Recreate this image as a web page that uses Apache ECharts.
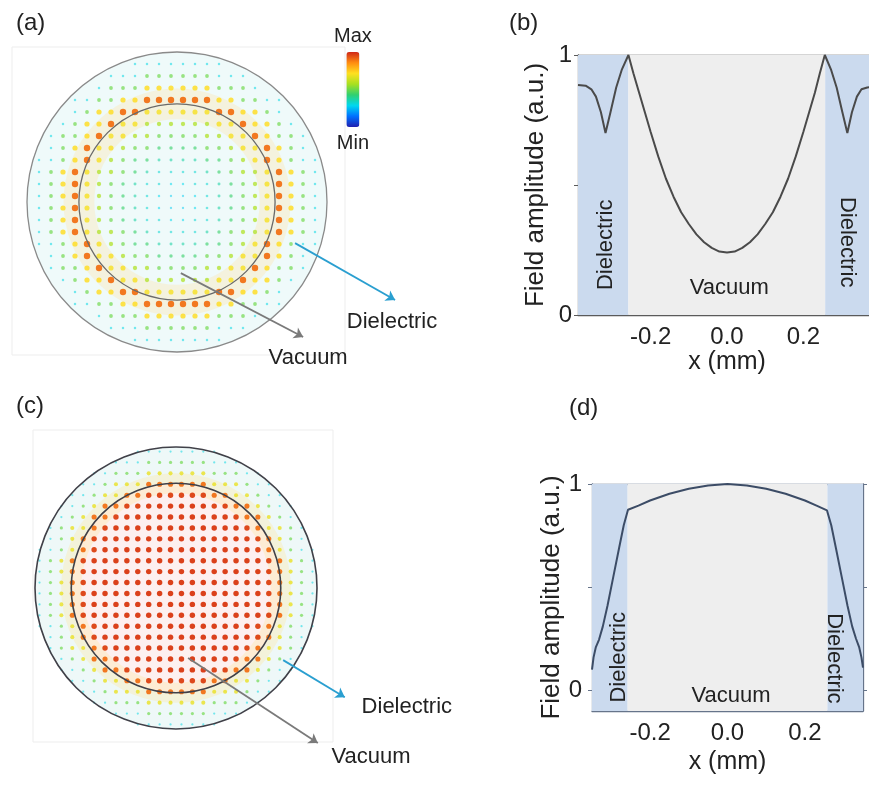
<!DOCTYPE html>
<html><head><meta charset="utf-8">
<script src="https://cdn.jsdelivr.net/npm/echarts@6/dist/echarts.min.js"></script>
<style>html,body{margin:0;padding:0;background:#fff}#c{width:869px;height:786px}</style>
</head><body><div id="c"></div>
<script>
// ---------------- data ----------------
// panel (a): dot amplitude per ring (ring 0 = centre), 24 x 24 dot lattice
const aRingLevel = [0.27, 0.29, 0.32, 0.37, 0.44, 0.50, 0.58, 0.70, 0.90, 0.72, 0.50, 0.30];
const aDotsPerSide = 24;
const aPitch = 0.0312;          // mm between dots
const aRadii = [0.39, 0.255];   // mm: outer dielectric edge, vacuum hole edge
// panel (c)
const cRingLevel = [0.97, 0.97, 0.97, 0.97, 0.97, 0.97, 0.97, 0.97, 0.96, 0.90, 0.68, 0.50, 0.30];
const cDotsPerSide = 26;
const cPitch = 0.0271;
const cRadii = [0.35, 0.26];
// arrows (mm) and annotation texts
const aArrows = [[[0.307, -0.107], [0.567, -0.255]], [[0.010, -0.185], [0.328, -0.351]]];
const aTexts = [['Dielectric', 0.559, -0.312], ['Vacuum', 0.341, -0.406]];
const cArrows = [[[0.266, -0.179], [0.419, -0.271]], [[0.030, -0.174], [0.352, -0.385]]];
const cTexts = [['Dielectric', 0.573, -0.295], ['Vacuum', 0.484, -0.419]];
// panel (b) profile
const bX = [-0.39,-0.37,-0.355,-0.343,-0.33,-0.318,-0.305,-0.29,-0.275,-0.258,-0.245,-0.23,-0.215,-0.2,-0.18,-0.16,-0.14,-0.12,-0.1,-0.08,-0.06,-0.04,-0.02,0,
            0.02,0.04,0.06,0.08,0.1,0.12,0.14,0.16,0.18,0.2,0.215,0.23,0.243,0.256,0.272,0.287,0.302,0.315,0.327,0.34,0.352,0.367,0.39];
const bY = [0.885,0.882,0.868,0.84,0.78,0.70,0.78,0.875,0.945,1.0,0.93,0.855,0.78,0.705,0.61,0.525,0.455,0.395,0.35,0.31,0.28,0.258,0.244,0.24,
            0.244,0.258,0.28,0.31,0.35,0.395,0.455,0.525,0.61,0.705,0.78,0.855,0.93,1.0,0.945,0.875,0.78,0.70,0.78,0.84,0.868,0.875,0.88];
const bRange = [-0.39, 0.39];
const bEdges = [-0.258, 0.257];
const bTexts = [['Dielectric', -0.318, 0.27], ['Dielectric', 0.315, 0.28], ['Vacuum', 0.006, 0.106]];
// panel (d) profile
const dX = [-0.35,-0.346,-0.34,-0.332,-0.322,-0.31,-0.295,-0.28,-0.268,-0.257,-0.23,-0.2,-0.15,-0.1,-0.05,0,
            0.05,0.1,0.15,0.2,0.23,0.257,0.268,0.28,0.295,0.31,0.322,0.332,0.34,0.346,0.35];
const dY = [0.10,0.16,0.21,0.245,0.31,0.41,0.55,0.69,0.80,0.875,0.895,0.92,0.953,0.977,0.993,1.0,
            0.993,0.977,0.953,0.92,0.895,0.872,0.80,0.69,0.55,0.41,0.31,0.25,0.21,0.16,0.11];
const dRange = [-0.35, 0.35];
const dEdges = [-0.258, 0.258];
const dTexts = [['Dielectric', -0.28, 0.16], ['Dielectric', 0.275, 0.155], ['Vacuum', 0.009, -0.025]];
// ticks
const xTickValues = [-0.3, -0.2, -0.1, 0, 0.1, 0.2, 0.3];
const xLabelValues = [-0.2, 0, 0.2];
const yTickValues = [0, 0.5, 1];
const yLabelValues = [0, 1];

// ---------------- build ----------------
function buildDots(n, pitch, levels, rMax) {
  const out = [];
  for (let i = 0; i < n; i++) for (let j = 0; j < n; j++) {
    const gx = i - (n - 1) / 2, gy = j - (n - 1) / 2;
    const rs = Math.hypot(gx, gy);
    if (rs > rMax) continue;
    const ring = Math.min(levels.length - 1, Math.max(0, Math.round(rs - 0.5)));
    out.push([gx * pitch, gy * pitch, levels[ring]]);
  }
  return out;
}
const dotsA = buildDots(aDotsPerSide, aPitch, aRingLevel, 12.1);
const dotsC = buildDots(cDotsPerSide, cPitch, cRingLevel, 13.0);
const zip = (xs, ys) => xs.map((x, i) => [x, ys[i]]);

// layout of the two map panels (pixels)
function mapLayout(cx, cy, s, left, top, width, height) {
  return { grid: { left, top, width, height, outerBoundsMode: 'none' },
    x: [(left - cx) / s, (left + width - cx) / s], y: [(cy - top - height) / s, (cy - top) / s] };
}
const LA = mapLayout(177, 202, 300 / 0.78, 12, 15, 448, 370);
const LC = mapLayout(176, 588, 141 / 0.35, 12, 420, 458, 360);

const FONT = 'Liberation Sans, Arial, sans-serif';
const TXT = '#222';
const DIEL = '#cbdaee', VAC = '#eeeeee';
const jet = ['#2020b0', '#0070ff', '#00d8f0', '#30d070', '#a8e020', '#ffe020', '#ff8c10', '#d02818'];

function hiddenAxis(grid, r) { return { type: 'value', gridIndex: grid, min: r[0], max: r[1], show: false }; }
function plotX(grid, r, pos, labels, lineColor) {
  return { type: 'value', gridIndex: grid, min: r[0], max: r[1], position: pos,
    axisLine: { show: true, onZero: false, lineStyle: { color: lineColor, width: 1.3 } },
    axisTick: { show: true, inside: true, length: 4, customValues: xTickValues, lineStyle: { color: lineColor } },
    axisLabel: { show: labels, customValues: xLabelValues, margin: 10, fontSize: 24, color: TXT, fontFamily: FONT,
      formatter: v => v.toFixed(1) },
    splitLine: { show: false },
    name: labels ? 'x (mm)' : '', nameLocation: 'middle', nameGap: 0,
    nameTextStyle: { fontSize: 25, color: TXT, fontFamily: FONT } };
}
function plotY(grid, r, pos, labels, lineColor, margin, gap) {
  return { type: 'value', gridIndex: grid, min: r[0], max: r[1], position: pos,
    axisLine: { show: true, onZero: false, lineStyle: { color: lineColor, width: 1.3 } },
    axisTick: { show: true, inside: false, length: 4, customValues: yTickValues, lineStyle: { color: lineColor } },
    axisLabel: { show: labels, customValues: yLabelValues, margin: margin, fontSize: 24, color: TXT, fontFamily: FONT },
    splitLine: { show: false },
    name: labels ? 'Field amplitude (a.u.)' : '', nameLocation: 'middle', nameGap: gap,
    nameTextStyle: { fontSize: 26, color: TXT, fontFamily: FONT } };
}

const xB = plotX(1, bRange, 'bottom', true, '#5a5a5a'); xB.nameGap = 27;
const xD = plotX(3, dRange, 'bottom', true, '#66748a'); xD.nameGap = 39;

function circleSeries(xi, yi, radii, styles, z) {
  return { type: 'custom', xAxisIndex: xi, yAxisIndex: yi, z: z, silent: true, clip: false,
    data: radii.map(r => [r]),
    renderItem: (p, api) => {
      const c = api.coord([0, 0]);
      const r = api.size([api.value(0), 0])[0];
      const st = styles[p.dataIndex];
      return { type: 'circle', shape: { cx: c[0], cy: c[1], r: r },
        style: { fill: st.fill || 'none', stroke: st.stroke || 'none',
                 lineWidth: st.lw ? (st.lwMm ? api.size([st.lw, 0])[0] : st.lw) : 0 } };
    } };
}
function textSeries(xi, yi, items, rot, size) {
  return { type: 'scatter', xAxisIndex: xi, yAxisIndex: yi, symbolSize: 1, z: 6, silent: true,
    itemStyle: { color: 'rgba(0,0,0,0)', opacity: 1 },
    data: items.map((t, i) => ({ name: t[0], value: [t[1], t[2]], label: { rotate: rot[i] } })),
    label: { show: true, position: 'inside', formatter: '{b}', fontSize: size, color: TXT, fontFamily: FONT,
             textBorderWidth: 0 } };
}
function arrowSeries(xi, yi, arrows, colors) {
  return { type: 'lines', coordinateSystem: 'cartesian2d', xAxisIndex: xi, yAxisIndex: yi, z: 5, silent: true,
    symbol: ['none', 'arrow'], symbolSize: 9,
    data: arrows.map((a, i) => ({ coords: a, lineStyle: { color: colors[i], width: 1.8, opacity: 1 } })) };
}
function bandAreas(range, edges) {
  return [[{ xAxis: range[0], itemStyle: { color: DIEL } }, { xAxis: edges[0] }],
          [{ xAxis: edges[0], itemStyle: { color: VAC } }, { xAxis: edges[1] }],
          [{ xAxis: edges[1], itemStyle: { color: DIEL } }, { xAxis: range[1] }]];
}

const option = {
  animation: false,
  backgroundColor: '#fff',
  textStyle: { fontFamily: FONT },
  title: [
    { text: '(a)', left: 11, top: 6 }, { text: '(b)', left: 504, top: 6 },
    { text: '(c)', left: 11, top: 389 }, { text: '(d)', left: 564, top: 391 }
  ].map(t => Object.assign(t, { textStyle: { fontSize: 24, fontWeight: 'normal', color: TXT, fontFamily: FONT } })),
  graphic: [
    { type: 'rect', shape: { x: 12, y: 47, width: 333, height: 308 }, style: { fill: 'none', stroke: '#ededed', lineWidth: 1 }, z: -1 },
    { type: 'rect', shape: { x: 33, y: 430, width: 300, height: 312 }, style: { fill: 'none', stroke: '#ededed', lineWidth: 1 }, z: -1 }
  ],
  grid: [
    LA.grid,
    { left: 578, top: 55, width: 298, height: 260, outerBoundsMode: 'none' },
    LC.grid,
    { left: 592, top: 484, width: 271, height: 227, outerBoundsMode: 'none' }
  ],
  xAxis: [
    hiddenAxis(0, LA.x), xB, plotX(1, bRange, 'top', false, '#5a5a5a'),
    hiddenAxis(2, LC.x), xD, plotX(3, dRange, 'top', false, '#66748a')
  ],
  yAxis: [
    hiddenAxis(0, LA.y), plotY(1, [0, 1], 'left', true, '#5a5a5a', 6, 29), plotY(1, [0, 1], 'right', false, '#5a5a5a', 6, 0),
    hiddenAxis(2, LC.y), plotY(3, [-0.1, 1], 'left', true, '#66748a', 10, 27), plotY(3, [-0.1, 1], 'right', false, '#66748a', 6, 0)
  ],
  visualMap: [
    { type: 'continuous', min: 0, max: 1, dimension: 2, seriesIndex: [0, 1], calculable: false, hoverLink: false,
      orient: 'vertical', left: 319, top: 11, itemWidth: 13, itemHeight: 75, textGap: 6,
      text: ['Max', 'Min'], textStyle: { fontSize: 20, color: TXT, fontFamily: FONT },
      inRange: { color: jet } },
    { type: 'continuous', show: false, min: 0.25, max: 1, dimension: 2, seriesIndex: 0,
      inRange: { symbolSize: [2.2, 7], opacity: [0.5, 1] } },
    { type: 'continuous', show: false, min: 0.25, max: 1, dimension: 2, seriesIndex: 1,
      inRange: { symbolSize: [2, 5.6], opacity: [0.5, 1] } }
  ],
  series: [
    { type: 'scatter', xAxisIndex: 0, yAxisIndex: 0, data: dotsA, symbol: 'circle', z: 3, silent: true },
    { type: 'scatter', xAxisIndex: 3, yAxisIndex: 3, data: dotsC, symbol: 'circle', z: 3, silent: true },
    circleSeries(0, 0, [aRadii[0], aRadii[1]], [{ fill: '#effafa' }, { stroke: 'rgba(255,226,160,0.3)', lw: 0.08, lwMm: true }], 1),
    circleSeries(0, 0, aRadii, [{ stroke: '#8a8a8a', lw: 1.3 }, { stroke: '#6a6a6a', lw: 1.3 }], 4),
    circleSeries(3, 3, [cRadii[0], cRadii[1], cRadii[1]], [{ fill: '#eef8f8' }, { fill: '#fdf0f0' }, { stroke: 'rgba(255,230,150,0.3)', lw: 0.05, lwMm: true }], 1),
    circleSeries(3, 3, cRadii, [{ stroke: '#404048', lw: 1.6 }, { stroke: '#404048', lw: 1.6 }], 4),
    arrowSeries(0, 0, aArrows, ['#2a9fd0', '#7a7a7a']),
    arrowSeries(3, 3, cArrows, ['#2a9fd0', '#7a7a7a']),
    textSeries(0, 0, aTexts, [0, 0], 22),
    textSeries(3, 3, cTexts, [0, 0], 22),
    { type: 'line', xAxisIndex: 1, yAxisIndex: 1, data: zip(bX, bY), showSymbol: false, z: 4, silent: true,
      lineStyle: { color: '#4a4a4a', width: 2 },
      markArea: { silent: true, data: bandAreas(bRange, bEdges) } },
    textSeries(1, 1, bTexts, [90, -90, 0], 22),
    { type: 'line', xAxisIndex: 4, yAxisIndex: 4, data: zip(dX, dY), showSymbol: false, z: 4, silent: true,
      lineStyle: { color: '#3c4c66', width: 2 },
      markArea: { silent: true, data: bandAreas(dRange, dEdges) } },
    textSeries(4, 4, dTexts, [90, -90, 0], 22)
  ]
};
const chart = echarts.init(document.getElementById('c'), null, { renderer: 'canvas' });
chart.setOption(option);
</script></body></html>
